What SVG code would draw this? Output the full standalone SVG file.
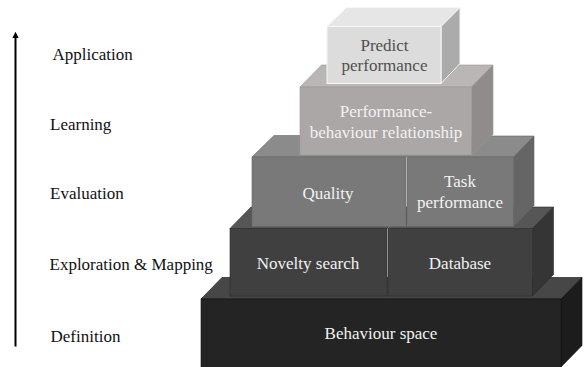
<svg xmlns="http://www.w3.org/2000/svg" width="585" height="367" viewBox="0 0 585 367">
  <style>
    text { font-family: 'Liberation Serif', 'Times New Roman', Times, 'DejaVu Serif', serif; font-size: 17px; }
    .lbl { fill: #111111; }
    .box { fill: #f2f2f2; text-anchor: middle; }
    .dark { fill: #505050; }
    .l0 .f { fill: #242424; } .l0 .t { fill: #474747; } .l0 .s { fill: #1c1c1c; }
    .l1 .f { fill: #404040; } .l1 .t { fill: #565656; } .l1 .s { fill: #353535; }
    .l2 .f { fill: #797979; } .l2 .t { fill: #8b8b8b; } .l2 .s { fill: #656565; }
    .l3 .f { fill: #aaa7a6; } .l3 .t { fill: #b9b6b5; } .l3 .s { fill: #8f8c8b; }
    .l4 .f { fill: #dcdcdc; } .l4 .t { fill: #e6e6e6; } .l4 .s { fill: #ababab; }
    .l0 rect, .l0 polygon { stroke: #111111; stroke-width: 0.6; }
    .l1 rect, .l1 polygon { stroke: #2a2a2a; stroke-width: 0.6; }
    .l2 rect, .l2 polygon { stroke: #666666; stroke-width: 0.6; }
    .l3 rect, .l3 polygon { stroke: #9a9796; stroke-width: 0.6; }
    .l4 rect, .l4 polygon { stroke: #f6f6f6; stroke-width: 1; }
  </style>
  <defs>
    <marker id="ah" viewBox="0 0 10 10" refX="5" refY="5" markerWidth="3.2" markerHeight="3.6" orient="auto">
      <path d="M0,0 L10,5 L0,10 z" fill="#000000"/>
    </marker>
  </defs>

  <g id="connectors">
    <line x1="15.5" y1="346.5" x2="15.5" y2="35" stroke="#000000" stroke-width="2" marker-end="url(#ah)"/>
  </g>

  <g id="labels">
    <text class="lbl" x="52.5" y="60" font-family="Liberation Serif, serif">Application</text>
    <text class="lbl" x="50" y="129.5">Learning</text>
    <text class="lbl" x="50" y="199">Evaluation</text>
    <text class="lbl" x="49.5" y="270">Exploration &amp; Mapping</text>
    <text class="lbl" x="50.5" y="341.5">Definition</text>
  </g>

  <g id="behaviour-space" class="l0">
    <polygon class="t" points="201,299 222,277.5 582,277.5 561,299"/>
    <polygon class="s" points="561,299 582,277.5 582,345.5 561,367"/>
    <rect class="f" x="201" y="299" width="360" height="69"/>
    <text class="box" x="381" y="338.5">Behaviour space</text>
  </g>

  <g id="novelty-search" class="l1">
    <polygon class="t" points="230,228.5 251,207 408,207 387,228.5"/>
    <rect class="f" x="230" y="228.5" width="157" height="67.5"/>
    <text class="box" x="308" y="269">Novelty search</text>
  </g>

  <g id="database" class="l1">
    <polygon class="t" points="388,228.5 409,207 553.5,207 532.5,228.5"/>
    <polygon class="s" points="532.5,228.5 553.5,207 553.5,274.5 532.5,296"/>
    <rect class="f" x="388" y="228.5" width="144.5" height="67.5"/>
    <text class="box" x="460" y="269">Database</text>
  </g>

  <g id="quality" class="l2">
    <polygon class="t" points="252,157 274,135.5 428,135.5 406,157"/>
    <rect class="f" x="252" y="157" width="154" height="69.5"/>
    <text class="box" x="328" y="198.5">Quality</text>
  </g>

  <g id="task-performance" class="l2">
    <polygon class="t" points="407,157 428,136 534,136 513.5,157"/>
    <polygon class="s" points="513.5,157 534,136 534,205.5 513.5,226.5"/>
    <rect class="f" x="407" y="157" width="106.5" height="69.5"/>
    <text class="box" x="460" y="187">Task</text>
    <text class="box" x="460" y="207.5">performance</text>
  </g>

  <g id="performance-behaviour-relationship" class="l3">
    <polygon class="t" points="300,87 321.5,65 493,65 471.5,87"/>
    <polygon class="s" points="471.5,87 493,65 493,134.5 471.5,155"/>
    <rect class="f" x="300" y="87" width="171.5" height="68"/>
    <text class="box" x="386" y="117">Performance-</text>
    <text class="box" x="386" y="137.5">behaviour relationship</text>
  </g>

  <g id="predict-performance" class="l4">
    <polygon class="t" points="327,26.5 346.5,7.5 460,7.5 441,26.5"/>
    <polygon class="s" points="441,26.5 460,7.5 460,63.5 441,83.5"/>
    <rect class="f" x="327" y="26.5" width="114" height="57"/>
    <text class="box dark" x="384.5" y="51">Predict</text>
    <text class="box dark" x="384.5" y="71">performance</text>
  </g>
</svg>
